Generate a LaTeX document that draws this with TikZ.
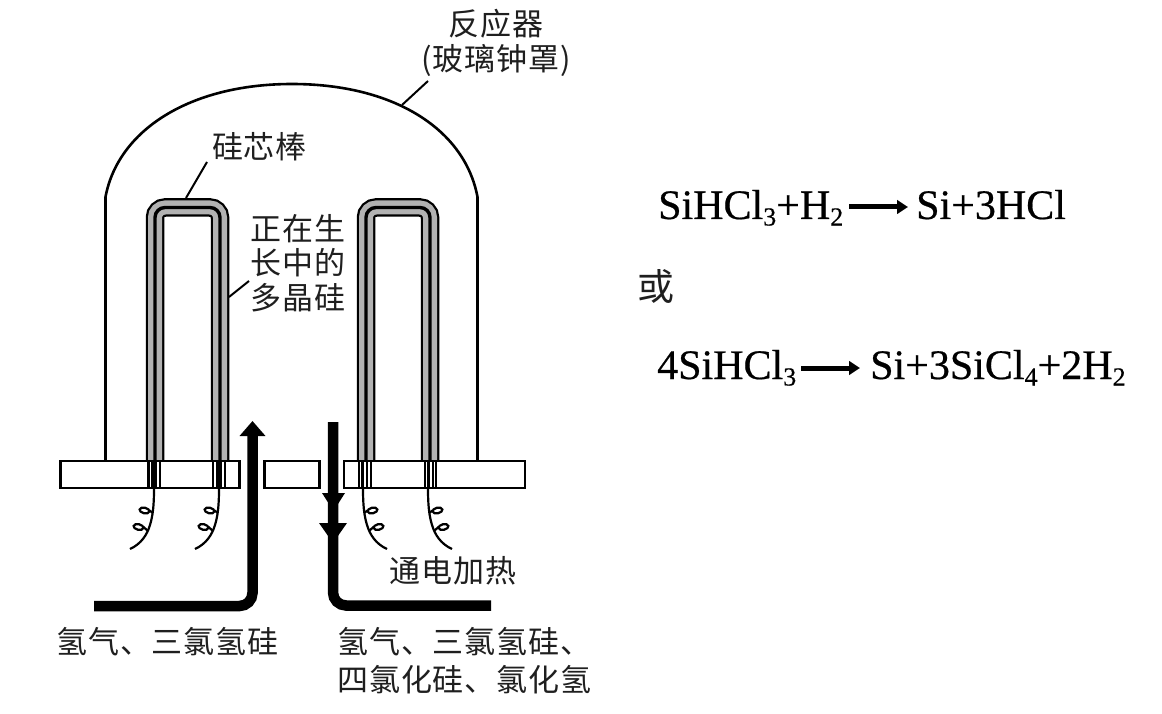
\documentclass[tikz,border=0pt]{standalone}
\usepackage{fontspec}
\setmainfont{Liberation Serif}[FakeBold=0.5]
\newfontfamily\cjk{Noto Sans CJK SC}[LetterSpace=3]
\usetikzlibrary{arrows.meta}
\tikzset{
  cjklabel/.style={font=\cjk\fontsize{31}{34.5}\selectfont,inner sep=0pt,align=left,text=black!88},
  formula/.style={font=\fontsize{42}{46}\selectfont,inner sep=0pt,anchor=base west},
  wallline/.style={line width=2.6pt,black},
  plate/.style={draw=black,line width=2.4pt,fill=white,inner sep=0pt,minimum height=27pt},
  thinline/.style={line width=2.2pt,black},
  leader/.style={line width=2pt,black},
  flow/.style={line width=10.5pt,black,rounded corners=13pt},
  eqarrow/.style={line width=5pt,-{Triangle[length=11pt,width=13.5pt]}},
}
\newcommand{\subs}[1]{\raisebox{-6.5pt}{\fontsize{26}{26}\selectfont #1}}
\newcommand{\silrod}[2]{%
  \draw[line width=18.5pt,black,rounded corners=10pt] (#1,461) -- (#1,207.5) -- (#2,207.5) -- (#2,461);
  \draw[line width=14pt,black!30,rounded corners=10pt] (#1,461) -- (#1,207.5) -- (#2,207.5) -- (#2,461);
  \draw[line width=3.4pt,black,rounded corners=10pt] (#1,461) -- (#1,207.5) -- (#2,207.5) -- (#2,461);
}
\newcommand{\feed}[4]{%
  \foreach \fx in {#1,#2,#3,#4}{\draw[thinline] (\fx,461) -- (\fx,488);}
}
\newcommand{\heatwire}[2]{%
  \begin{scope}[shift={(#1,0)},xscale=#2]
    \draw[thinline] (0,488) .. controls (0,505) and (-1,515) .. (-4,525)
       .. controls (-7,535) and (-13,544) .. (-24,549);
    \draw[thinline,rotate around={-12:(-9.5,510.5)}] (-9.5,510.5) ellipse (5 and 2.8);
    \draw[thinline] (-4.5,510.5) -- (-1,513);
    \draw[thinline,rotate around={-12:(-15.5,527)}] (-15.5,527) ellipse (5 and 2.8);
    \draw[thinline] (-10.5,527) -- (-6,531);
  \end{scope}
}
\begin{document}
\begin{tikzpicture}[x=1pt,y=-1pt]
\useasboundingbox (0,0) rectangle (1162,714);
\fill[white] (0,0) rectangle (1162,714);
% rods
\silrod{155}{220}
\silrod{366}{430}
% reactor bell
\coordinate (bellL) at (105.5,461);
\coordinate (bellR) at (477.5,461);
\coordinate (bellLeader) at (402,105);
\draw[wallline] (bellL) -- (105.5,197) .. controls (118,130) and (190,84) .. (292,84) .. controls (395,84) and (465,130) .. (477.5,197) -- (bellR);
% plates
\node[plate,minimum width=179pt] (plateL) at (150,474.5) {};
\node[plate,minimum width=55pt] (plateM) at (292,474.5) {};
\node[plate,minimum width=181pt] (plateR) at (434.5,474.5) {};
\feed{148.5}{152.5}{155.5}{160}
\feed{213}{217.5}{220.5}{225}
\feed{359}{362.5}{367}{371}
\feed{425}{428.5}{433}{436}
% wires
\heatwire{154}{1}
\heatwire{219}{1}
\heatwire{363}{-1}
\heatwire{428}{-1}
% flows
\coordinate (inS) at (94,606);
\coordinate (inC) at (252.5,606);
\coordinate (inE) at (252.5,421);
\draw[flow,-{Triangle[length=15pt,width=25pt]}] (inS) -- (inC) -- (inE);
\coordinate (outS) at (333,422);
\coordinate (outC) at (333,605.5);
\coordinate (outE) at (491,605.5);
\draw[flow] (outS) -- (outC) -- (outE);
\fill[black] (322,493) -- (345,493) -- (333.5,511) -- cycle;
\fill[black] (319,523) -- (347,523) -- (333,543) -- cycle;
% labels
\node[cjklabel,align=center] (react) at (496,43) {反应器\\(玻璃钟罩)};
\node[cjklabel] (core) at (259.5,147) {硅芯棒};
\node[cjklabel] (grow) at (298,263) {正在生\\长中的\\多晶硅};
\node[cjklabel] (heat) at (453,571) {通电加热};
\node[cjklabel,anchor=west] (inlab) at (56,642) {氢气、三氯氢硅};
\node[cjklabel,font=\cjk\fontsize{31}{38}\selectfont,anchor=west] (outlab) at (337,661) {氢气、三氯氢硅、\\四氯化硅、氯化氢};
\node[cjklabel,font=\cjk\fontsize{37}{40}\selectfont] (orlab) at (656,286) {或};
% leaders
\coordinate (reactL) at (428,81);
\draw[leader] (reactL) -- (bellLeader);
\coordinate (coreL) at (207,162);
\coordinate (coreE) at (186,198);
\draw[leader] (coreL) -- (coreE);
\coordinate (growL) at (249,281);
\coordinate (growE) at (229,297);
\draw[leader] (growL) -- (growE);
% equations
\node[formula] (eqAl) at (658,219) {SiHCl\subs{3}+H\subs{2}};
\node[formula] (eqAr) at (916,219) {Si+3HCl};
\node[formula] (eqBl) at (657,379) {4SiHCl\subs{3}};
\node[formula] (eqBr) at (870,379) {Si+3SiCl\subs{4}+2H\subs{2}};
\coordinate (arA1) at (849,207);
\coordinate (arA2) at (908,207);
\coordinate (arB1) at (801,368);
\coordinate (arB2) at (860,368);
\draw[eqarrow] (arA1) -- (arA2);
\draw[eqarrow] (arB1) -- (arB2);
\end{tikzpicture}
\end{document}
